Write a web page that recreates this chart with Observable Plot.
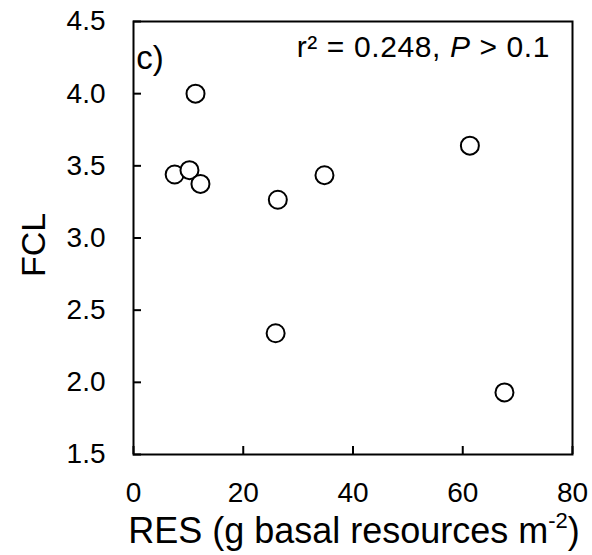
<!DOCTYPE html>
<html>
<head>
<meta charset="utf-8">
<script src="https://cdn.jsdelivr.net/npm/d3@7"></script>
<script src="https://cdn.jsdelivr.net/npm/@observablehq/plot@0.6"></script>
<style>
  html, body { margin: 0; padding: 0; background: #fff; }
  svg { font-family: "Liberation Sans", Arial, sans-serif; }
</style>
</head>
<body>
<div id="chart"></div>
<script>
// Data
const res = [11.3, 7.5, 10.2, 12.2, 26.3, 34.8, 25.9, 61.3, 67.6];
const fcl = [4.00, 3.44, 3.47, 3.375, 3.265, 3.435, 2.34, 3.64, 1.93];
const xTicks = [0, 20, 40, 60, 80];
const yTicks = [1.5, 2.0, 2.5, 3.0, 3.5, 4.0, 4.5];
const panelLabel = "c)";
const statText = ["r² = 0.248, ", "P", " > 0.1"];
const xTitle = ["RES (g basal resources m", "-2", ")"];
const yTitle = "FCL";

const data = res.map((x, i) => ({x, y: fcl[i]}));

const chart = Plot.plot({
  width: 592,
  height: 555,
  marginLeft: 133,
  marginRight: 20,
  marginTop: 21,
  marginBottom: 101,
  style: {fontFamily: '"Liberation Sans", Arial, sans-serif', background: "#fff"},
  x: {domain: [0, 80]},
  y: {domain: [1.5, 4.5]},
  marks: [
    Plot.axisX({ticks: xTicks, tickSize: -8, tickPadding: 36, fontSize: 28, label: null, stroke: "#000", strokeWidth: 2, color: "#000"}),
    Plot.axisY({ticks: yTicks, tickFormat: d3.format(".1f"), tickSize: -8, tickPadding: 36, fontSize: 28, label: null, stroke: "#000", strokeWidth: 2, color: "#000"}),
    Plot.frame({stroke: "#000", strokeWidth: 2}),
    Plot.dot(data, {x: "x", y: "y", r: 9, stroke: "#000", strokeWidth: 2, fill: "#fff"})
  ]
});

document.getElementById("chart").appendChild(chart);

const svg = d3.select(chart);
const font = '"Liberation Sans", Arial, sans-serif';

// panel label
svg.append("text")
  .attr("x", 150).attr("y", 69)
  .attr("font-family", font).attr("font-size", 33).attr("fill", "#000")
  .text(panelLabel);

// stat annotation with italic P
const st = svg.append("text")
  .attr("x", 550).attr("y", 57)
  .attr("text-anchor", "end")
  .attr("letter-spacing", 0.6)
  .attr("font-family", font).attr("font-size", 30).attr("fill", "#000");
st.append("tspan").text(statText[0]);
st.append("tspan").attr("font-style", "italic").text(statText[1]);
st.append("tspan").text(statText[2]);

// x title with superscript
const xt = svg.append("text")
  .attr("x", 354).attr("y", 543)
  .attr("text-anchor", "middle")
  .attr("font-family", font).attr("font-size", 36).attr("fill", "#000");
xt.append("tspan").text(xTitle[0]);
xt.append("tspan").attr("font-size", 22).attr("dy", -15).text(xTitle[1]);
xt.append("tspan").attr("dy", 15).text(xTitle[2]);

// y title
svg.append("text")
  .attr("transform", "translate(45,245) rotate(-90)")
  .attr("text-anchor", "middle")
  .attr("font-family", font).attr("font-size", 34).attr("fill", "#000")
  .text(yTitle);
</script>
</body>
</html>
